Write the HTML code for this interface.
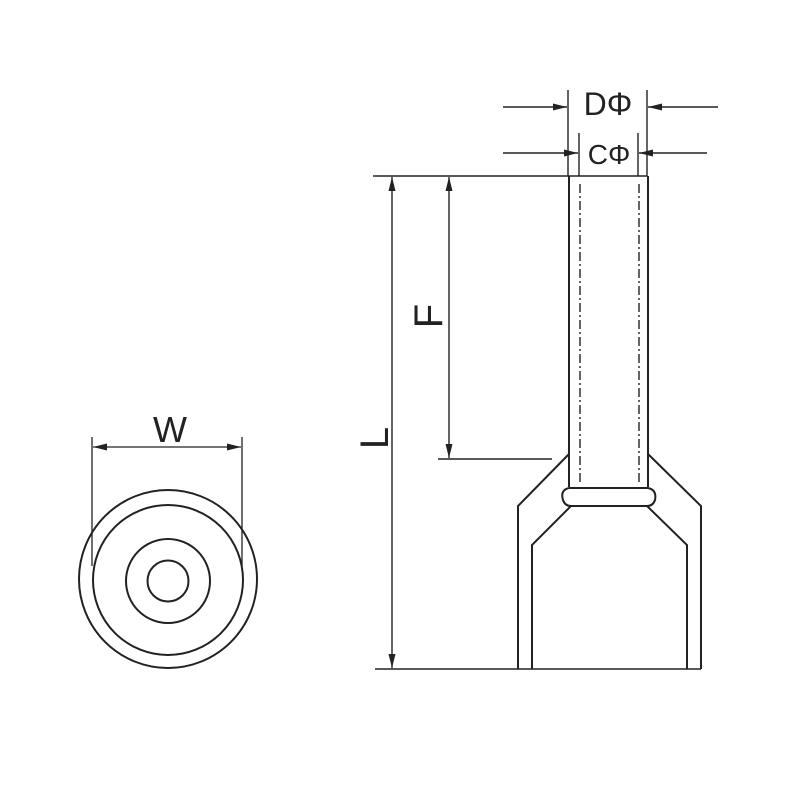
<!DOCTYPE html>
<html><head><style>html,body{margin:0;padding:0;background:#fff}</style></head>
<body>
<svg width="800" height="800" viewBox="0 0 800 800" xmlns="http://www.w3.org/2000/svg">
<defs>
<marker id="a" viewBox="0 0 14 8" refX="14" refY="4" markerWidth="14" markerHeight="8" markerUnits="userSpaceOnUse" orient="auto-start-reverse"><path d="M0,0.5 L14,4 L0,7.5 Z" fill="#222"/></marker>
</defs>
<g fill="none" stroke="#222" stroke-width="1.6">
<circle cx="168" cy="579" r="89" stroke-width="2"/>
<circle cx="168" cy="580" r="75" stroke-width="2"/>
<circle cx="168" cy="581" r="42" stroke-width="2"/>
<circle cx="168" cy="581" r="20.5" stroke-width="2"/>
<line x1="92" y1="437" x2="92" y2="566" stroke-width="1.3"/>
<line x1="242" y1="437" x2="242" y2="566" stroke-width="1.3"/>
<line x1="93" y1="447" x2="241" y2="447" marker-start="url(#a)" marker-end="url(#a)" stroke-width="1.3"/>
<line x1="373" y1="176" x2="647" y2="176" stroke-width="1.4"/>
<line x1="375" y1="669" x2="701" y2="669" stroke-width="1.6"/>
<line x1="392" y1="177" x2="392" y2="668" marker-start="url(#a)" marker-end="url(#a)" stroke-width="1.4"/>
<line x1="449" y1="177" x2="449" y2="458" marker-start="url(#a)" marker-end="url(#a)" stroke-width="1.4"/>
<line x1="438" y1="459" x2="552" y2="459" stroke-width="1.4"/>
<line x1="568" y1="90" x2="568" y2="176" stroke-width="1.4"/>
<line x1="647" y1="90" x2="647" y2="176" stroke-width="1.4"/>
<line x1="579" y1="133" x2="579" y2="176" stroke-width="1.4"/>
<line x1="638" y1="133" x2="638" y2="176" stroke-width="1.4"/>
<line x1="503" y1="107" x2="567" y2="107" marker-end="url(#a)" stroke-width="1.4"/>
<line x1="718" y1="107" x2="648" y2="107" marker-end="url(#a)" stroke-width="1.4"/>
<line x1="503" y1="153" x2="578" y2="153" marker-end="url(#a)" stroke-width="1.4"/>
<line x1="707" y1="153" x2="639" y2="153" marker-end="url(#a)" stroke-width="1.4"/>
<line x1="569" y1="176" x2="569" y2="487" stroke-width="2"/>
<line x1="648" y1="176" x2="648" y2="487" stroke-width="2"/>
<line x1="580" y1="184" x2="580" y2="484" stroke-dasharray="9,3,2,3" stroke-width="1.4"/>
<line x1="639" y1="184" x2="639" y2="484" stroke-dasharray="9,3,2,3" stroke-width="1.4"/>
<path d="M569,488 L648,488 M571,506 L647,506" stroke-width="2"/>
<path d="M569,488 Q560,490 563,500 Q565,506 571,506 M648,488 Q657,490 655,500 Q653,506 647,506" stroke-width="2"/>
<path d="M569,454 L518,506 L518,669 M648,454 L701,506 L701,669" stroke-width="2"/>
<path d="M571,506 L532,545 L532,669 M647,506 L687,545 L687,669" stroke-width="2"/>
</g>
<g font-family="Liberation Sans, sans-serif" fill="#222" text-anchor="middle">
<text x="170" y="442" font-size="36">W</text>
<text x="608" y="115" font-size="32">DΦ</text>
<text x="609" y="164" font-size="28">CΦ</text>
<text x="0" y="0" font-size="40" transform="translate(388,438) rotate(-90)">L</text>
<text x="0" y="0" font-size="40" transform="translate(442,316) rotate(-90)">F</text>
</g>
</svg>
</body></html>
